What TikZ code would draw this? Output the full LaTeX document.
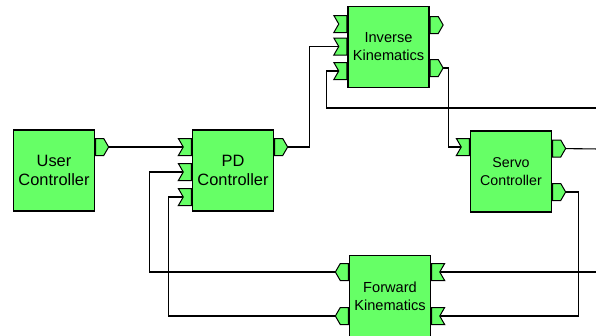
\documentclass[tikz,border=0pt]{standalone}
\usepackage{fontspec}
\setmainfont{Liberation Sans}
\usetikzlibrary{shapes.symbols,backgrounds}
\definecolor{blockgreen}{RGB}{102,255,102}

\begin{document}
\begin{tikzpicture}[x=1pt, y=-1pt,
    block/.style={draw, fill=blockgreen, line width=1.3pt, minimum width=81pt,
        minimum height=81pt, inner sep=0pt, align=center},
    port/.style={signal, draw, fill=blockgreen, line width=1pt, minimum width=13pt,
        minimum height=17pt, inner sep=0pt, signal pointer angle=120},
    outport/.style={port, signal to=east},
    inport/.style={port, signal to=nowhere, signal from=west},
    backout/.style={port, signal to=west},
    backin/.style={port, signal to=nowhere, signal from=east},
    wire/.style={line width=1.1pt}]

    \useasboundingbox (0,0) rectangle (596,335);

    % Blocks
    \node[block, font=\fontsize{16.4}{19.5}\selectfont] (uc) at (54,170.5) {User\\Controller};
    \node[block, font=\fontsize{16.4}{19.5}\selectfont] (pd) at (233,170.5) {PD\\Controller};
    \node[block, font=\fontsize{14.6}{18}\selectfont] (ik) at (388.5,47) {Inverse\\Kinematics};
    \node[block, font=\fontsize{14.2}{17.5}\selectfont] (sc) at (511,171.5) {Servo\\Controller};
    \node[block, font=\fontsize{14.6}{18}\selectfont] (fk) at (390,296) {Forward\\Kinematics};

    % Ports
    \node[outport, anchor=west] (uc-out) at (uc.east |- 0,147) {};
    \node[inport, anchor=east] (pd-in1) at (pd.west |- 0,147) {};
    \node[inport, anchor=east] (pd-in2) at (pd.west |- 0,172) {};
    \node[inport, anchor=east] (pd-in3) at (pd.west |- 0,197) {};
    \node[outport, anchor=west] (pd-out) at (pd.east |- 0,147) {};
    \node[inport, anchor=east] (ik-in1) at (ik.west |- 0,24) {};
    \node[inport, anchor=east] (ik-in2) at (ik.west |- 0,46.5) {};
    \node[inport, anchor=east] (ik-in3) at (ik.west |- 0,71) {};
    \node[outport, anchor=west] (ik-out1) at (ik.east |- 0,25) {};
    \node[outport, anchor=west] (ik-out2) at (ik.east |- 0,68) {};
    \node[inport, anchor=east] (sc-in) at (sc.west |- 0,147) {};
    \node[outport, anchor=west] (sc-out1) at (sc.east |- 0,148.5) {};
    \node[outport, anchor=west] (sc-out2) at (sc.east |- 0,192) {};
    \node[backout, anchor=east] (fk-out1) at (fk.west |- 0,272) {};
    \node[backout, anchor=east] (fk-out2) at (fk.west |- 0,316) {};
    \node[backin, anchor=west] (fk-in1) at (fk.east |- 0,272) {};
    \node[backin, anchor=west] (fk-in2) at (fk.east |- 0,316) {};

    % Loose ends at the right border
    \coordinate (plant-pos) at (600,108);
    \coordinate (plant-cmd) at (600,149);
    \coordinate (plant-meas) at (600,272);

    % Wires
    \begin{scope}[on background layer]
        \draw[wire] (uc-out.center) -- (pd-in1.center);
        \draw[wire] (pd-out.center) -| ++(31,-60) |- (ik-in2.center);
        \draw[wire] (ik-out2.center) -- ++(14,0) |- (sc-in.center);
        \draw[wire] (ik-in3.center) -- ++(-16,0) |- (plant-pos);
        \draw[wire] (sc-out1.center) -- (plant-cmd);
        \draw[wire] (sc-out2.center) -- ++(22,0) |- (fk-in2.center);
        \draw[wire] (plant-meas) -- (fk-in1.center);
        \draw[wire] (fk-out1.center) -- ++(-195,0) |- (pd-in2.center);
        \draw[wire] (fk-out2.center) -- ++(-176,0) |- (pd-in3.center);
    \end{scope}

\end{tikzpicture}
\end{document}
